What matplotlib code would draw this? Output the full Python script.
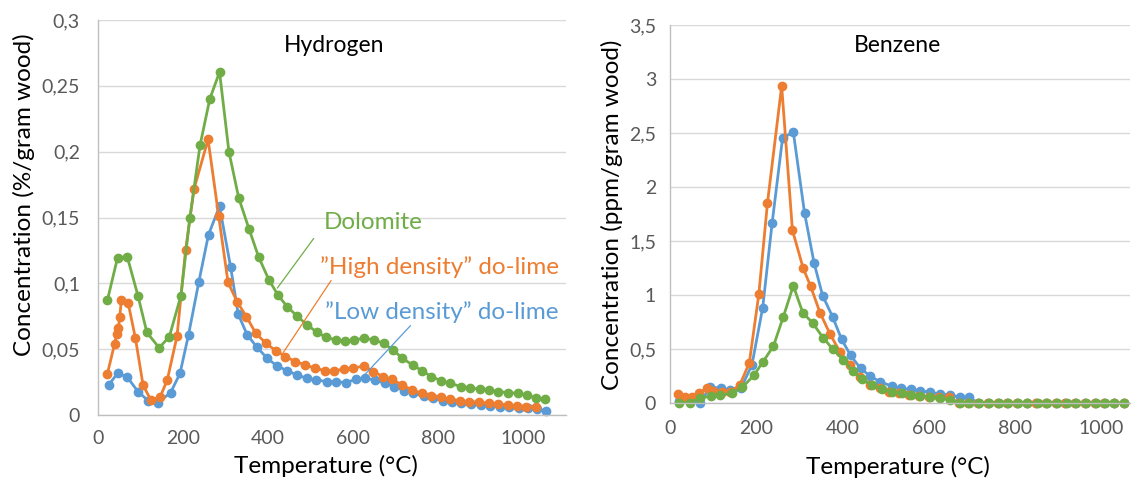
import numpy as np
import matplotlib
matplotlib.use("Agg")
import matplotlib.pyplot as plt
from matplotlib.ticker import FuncFormatter

plt.rcParams['font.family'] = ['Lato', 'DejaVu Sans']

BLUE = '#5B9BD5'
ORANGE = '#ED7D31'
GREEN = '#70AD47'

# ---------------- Hydrogen (%/gram wood) ----------------
h2_low_T = [25, 46, 69, 94, 118, 141, 171, 193, 213, 237, 260, 286, 312, 330, 351, 374,
            398, 421, 445, 468, 492, 514, 538, 561, 583, 607, 629, 651, 675, 697, 720,
            742, 766, 788, 811, 833, 855, 877, 901, 923, 945, 968, 990, 1012, 1034, 1054]
h2_low = [0.0228, 0.0317, 0.0287, 0.0178, 0.0109, 0.0094, 0.017, 0.0317, 0.0609, 0.1007,
          0.137, 0.1585, 0.1124, 0.0765, 0.0609, 0.0515, 0.0431, 0.0373, 0.0337, 0.0304,
          0.0279, 0.0266, 0.0254, 0.0254, 0.0246, 0.0271, 0.0279, 0.0266, 0.0241, 0.0216,
          0.0185, 0.0165, 0.0145, 0.0127, 0.0109, 0.0099, 0.0089, 0.0081, 0.0074, 0.0068,
          0.0063, 0.0058, 0.0051, 0.0051, 0.0043, 0.0033]

h2_high_T = [22, 39, 44, 48, 51, 55, 71, 88, 106, 124, 146, 163, 186, 206, 226, 259, 284,
             306, 327, 349, 371, 395, 419, 441, 464, 488, 511, 534, 556, 579, 601, 625,
             648, 670, 692, 716, 739, 762, 784, 807, 829, 851, 873, 897, 919, 941, 964,
             986, 1008, 1030]
h2_high = [0.0312, 0.054, 0.0616, 0.0657, 0.0743, 0.087, 0.085, 0.0584, 0.0228, 0.0114,
           0.0135, 0.0266, 0.060, 0.125, 0.1717, 0.2093, 0.151, 0.1007, 0.0862, 0.0748,
           0.0622, 0.0545, 0.0487, 0.0444, 0.0406, 0.038, 0.0355, 0.0337, 0.0337, 0.0348,
           0.0355, 0.0373, 0.033, 0.0292, 0.0271, 0.0228, 0.019, 0.0165, 0.0145, 0.0134,
           0.0119, 0.0109, 0.0101, 0.0096, 0.0089, 0.0084, 0.0076, 0.0068, 0.0063, 0.0058]

dolo_T = [22, 46, 69, 94, 115, 144, 168, 195, 216, 240, 263, 286, 308, 331, 355, 378,
          402, 424, 445, 469, 492, 515, 537, 559, 581, 603, 627, 649, 672, 694, 716, 740,
          762, 784, 807, 829, 853, 875, 898, 920, 942, 964, 988, 1009, 1031, 1052]
h2_dolo = [0.087, 0.1195, 0.120, 0.0906, 0.0627, 0.051, 0.0596, 0.0906, 0.1494, 0.2047,
           0.240, 0.2605, 0.2001, 0.165, 0.1416, 0.120, 0.1027, 0.0908, 0.0824, 0.0749,
           0.0685, 0.0629, 0.0589, 0.0571, 0.0561, 0.0571, 0.0583, 0.0571, 0.0545, 0.0495,
           0.0431, 0.038, 0.0337, 0.0292, 0.0261, 0.0241, 0.0216, 0.0208, 0.0195, 0.019,
           0.0178, 0.017, 0.0165, 0.0152, 0.0127, 0.0119]

# ---------------- Benzene (ppm/gram wood) ----------------
bz_low_T = [20, 45, 70, 93, 118, 139, 165, 190, 215, 237, 261, 286, 312, 334, 354, 377,
            398, 419, 442, 464, 487, 514, 535, 558, 580, 603, 626, 650, 673, 693, 715,
            737, 760, 782, 805, 827, 850, 872, 895, 917, 940, 962, 985, 1007, 1030, 1052]
bz_low = [0.02, 0.03, 0.0, 0.15, 0.136, 0.12, 0.14, 0.352, 0.883, 1.67, 2.45, 2.51, 1.762,
          1.30, 0.994, 0.80, 0.59, 0.44, 0.321, 0.25, 0.197, 0.157, 0.136, 0.127, 0.114,
          0.099, 0.083, 0.074, 0.052, 0.052, 0, 0, 0, 0, 0, 0, 0, 0, 0, 0, 0, 0, 0, 0,
          0, 0]

bz_high_T = [19, 35, 50, 68, 85, 100, 120, 139, 162, 184, 206, 226, 259, 284, 309, 326,
             348, 371, 394, 418, 441, 464, 487, 509, 532, 555, 578, 601, 624, 648, 670,
             692, 715, 737, 760, 782, 805, 827, 850, 872, 895, 917, 940, 962, 985, 1007,
             1030, 1052]
bz_high = [0.083, 0.052, 0.06, 0.096, 0.136, 0.114, 0.105, 0.105, 0.167, 0.373, 1.006,
           1.849, 2.935, 1.60, 1.247, 1.083, 0.836, 0.64, 0.475, 0.352, 0.238, 0.167,
           0.136, 0.105, 0.09, 0.074, 0.065, 0.06, 0.052, 0.052, 0, 0, 0, 0, 0, 0, 0, 0,
           0, 0, 0, 0, 0, 0, 0, 0, 0, 0]

bz_dolo = [0.003, 0.003, 0.043, 0.065, 0.074, 0.09, 0.145, 0.259, 0.383, 0.528, 0.80,
           1.086, 0.836, 0.74, 0.605, 0.497, 0.40, 0.295, 0.219, 0.167, 0.127, 0.105,
           0.09, 0.074, 0.065, 0.06, 0.043, 0.03, 0, 0, 0, 0, 0, 0, 0, 0, 0, 0, 0, 0, 0,
           0, 0, 0, 0, 0]

W, H = 1135, 479
fig = plt.figure(figsize=(W / 100, H / 100), dpi=100)


def comma(v, p):
    return ('%g' % round(v, 3)).replace('.', ',')


def style(ax, ymax, ystep, xmax, ypad, xpad):
    ax.set_xlim(0, xmax)
    ax.set_ylim(0, ymax)
    ax.set_xticks(np.arange(0, 1001, 200))
    ax.set_yticks(np.arange(0, ymax + 1e-9, ystep))
    ax.yaxis.set_major_formatter(FuncFormatter(comma))
    ax.grid(axis='y', color='#D9D9D9', lw=1)
    ax.set_axisbelow(True)
    for s in ['top', 'right']:
        ax.spines[s].set_visible(False)
    for s in ['left', 'bottom']:
        ax.spines[s].set_color('#BFBFBF')
        ax.spines[s].set_linewidth(1)
    ax.tick_params(axis='y', length=0, pad=ypad, labelsize=14, labelcolor='#595959')
    ax.tick_params(axis='x', length=0, pad=xpad, labelsize=14, labelcolor='#595959')


def series(ax, T, y, c):
    ax.plot(T, y, color=c, lw=2.0, marker='o', ms=6, mec=c, mfc=c, clip_on=False)


# left panel
ax1 = fig.add_axes([98 / W, 1 - 415 / H, 467.5 / W, 395 / H])
style(ax1, 0.3, 0.05, 1100, 13, 11)
series(ax1, h2_low_T, h2_low, BLUE)
series(ax1, h2_high_T, h2_high, ORANGE)
series(ax1, dolo_T, h2_dolo, GREEN)
ax1.text(0.505, 0.935, 'Hydrogen', transform=ax1.transAxes, ha='center', va='center',
         fontsize=16.5)

# labels with leader lines
ax1.annotate('Dolomite', xy=(422, 0.0964), xytext=(647, 0.146), color=GREEN,
             fontsize=17.5, ha='center', va='center',
             arrowprops=dict(arrowstyle='-', color=GREEN, lw=0.9,
                             shrinkA=0, shrinkB=0, relpos=(-0.1, -0.25)))
ax1.annotate('”High density” do-lime', xy=(435, 0.047), xytext=(803, 0.1125),
             color=ORANGE, fontsize=17.5, ha='center', va='center',
             arrowprops=dict(arrowstyle='-', color=ORANGE, lw=0.9,
                             shrinkA=0, shrinkB=0, relpos=(0.055, 0.0)))
ax1.annotate('”Low density” do-lime', xy=(627, 0.0304), xytext=(808, 0.0783),
             color=BLUE, fontsize=17.5, ha='center', va='center',
             arrowprops=dict(arrowstyle='-', color=BLUE, lw=0.9,
                             shrinkA=0, shrinkB=0, relpos=(0.37, -0.1)))

# right panel
ax2 = fig.add_axes([670 / W, 1 - 403 / H, 460 / W, 378 / H])
style(ax2, 3.5, 0.5, 1067, 10, 12)
series(ax2, bz_low_T, bz_low, BLUE)
series(ax2, bz_high_T, bz_high, ORANGE)
series(ax2, dolo_T, bz_dolo, GREEN)
ax2.text(0.495, 0.945, 'Benzene', transform=ax2.transAxes, ha='center', va='center',
         fontsize=16.5)

# axis titles
fig.text(24 / W, 1 - 195 / H, 'Concentration (%/gram wood)', rotation=90,
         ha='center', va='center', fontsize=17.5)
fig.text(326 / W, 1 - 466 / H, 'Temperature (°C)', ha='center', va='center', fontsize=17.5)
fig.text(612 / W, 1 - 215 / H, 'Concentration (ppm/gram wood)', rotation=90,
         ha='center', va='center', fontsize=17.5)
fig.text(898 / W, 1 - 467 / H, 'Temperature (°C)', ha='center', va='center', fontsize=17.5)

fig.savefig('out.png', dpi=100)
